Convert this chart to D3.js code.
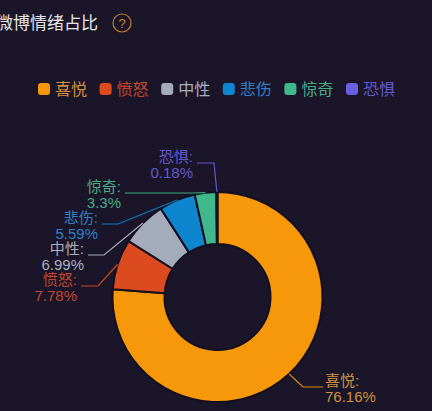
<!DOCTYPE html>
<html><head><meta charset="utf-8">
<script src="https://cdn.jsdelivr.net/npm/d3@7/dist/d3.min.js"></script>
<style>html,body{margin:0;padding:0;background:#1a1528;overflow:hidden}svg{display:block}text{font-family:"Liberation Sans","Noto Sans CJK SC",sans-serif}</style>
</head><body><div id="c"></div>
<script>
const categories = ["喜悦","愤怒","中性","悲伤","惊奇","恐惧"];
const values = [76.16,7.78,6.99,5.59,3.3,0.18];
const valueLabels = ["76.16%","7.78%","6.99%","5.59%","3.3%","0.18%"];
const colors = ["#f7980a","#dc4a1f","#a4abbb","#0e86cf","#3fb98b","#6a5fe0"];
const textColors = ["#d0903f","#c4482f","#aab0be","#2f7fc4","#4aaa86","#6258cc"];
const titleText = "微博情绪占比";
// leader-line layout: elbow point and end of the horizontal run
const elbowX = [303,98,104,118,193,214];
const elbowY = [387,286,255,224,193,163];
const endX = [323,81,88,102,125,197];

const W=432,H=411,cx=217.5,cy=297,R=105,r0=53;
const svg=d3.select("#c").append("svg").attr("width",W).attr("height",H);
svg.append("rect").attr("width",W).attr("height",H).attr("fill","#1a1528");

// title
svg.append("text").attr("x",-4).attr("y",29).attr("font-size",17).attr("fill","#e6e6ea").text(titleText);
svg.append("circle").attr("cx",122).attr("cy",23).attr("r",9).attr("fill","none").attr("stroke","#c4812c").attr("stroke-width",1.2);
svg.append("text").attr("x",122).attr("y",28).attr("text-anchor","middle").attr("font-size",13).attr("fill","#c4812c").text("?");

// legend
const lx=d3.scalePoint().domain(categories).range([38,346]);
const lg=svg.append("g").selectAll("g").data(categories).join("g").attr("transform",d=>`translate(${lx(d)},0)`);
lg.append("rect").attr("y",83).attr("width",12).attr("height",12).attr("rx",3).attr("fill",(d,i)=>colors[i]);
lg.append("text").attr("x",17).attr("y",95).attr("font-size",16).attr("fill",(d,i)=>textColors[i]).text(d=>d);

// pie
const pie=d3.pie().sort(null).value(d=>d)(values);
const arc=d3.arc().innerRadius(r0).outerRadius(R);
const g=svg.append("g").attr("transform",`translate(${cx},${cy})`);
g.selectAll("path").data(pie).join("path").attr("d",arc).attr("fill",(d,i)=>colors[i]).attr("stroke","#141020").attr("stroke-width",2);

// leaders + labels
pie.forEach((d,i)=>{
  const a=(d.startAngle+d.endAngle)/2;
  const sx=cx+R*Math.sin(a), sy=cy-R*Math.cos(a);
  const line=d3.line();
  svg.append("path").attr("d",line([[sx,sy],[elbowX[i],elbowY[i]],[endX[i],elbowY[i]]]))
    .attr("fill","none").attr("stroke",i==2?"#b4bac8":colors[i]).attr("stroke-width",1.2).attr("opacity",0.9);
  const right=i>0;
  const tx=right?endX[i]-4:endX[i]+2;
  const t=svg.append("text").attr("text-anchor",right?"end":"start").attr("font-size",15).attr("fill",textColors[i]);
  t.append("tspan").attr("x",tx).attr("y",elbowY[i]-1).text(categories[i]+":");
  t.append("tspan").attr("x",tx).attr("y",elbowY[i]+15).text(valueLabels[i]);
});
</script></body></html>
